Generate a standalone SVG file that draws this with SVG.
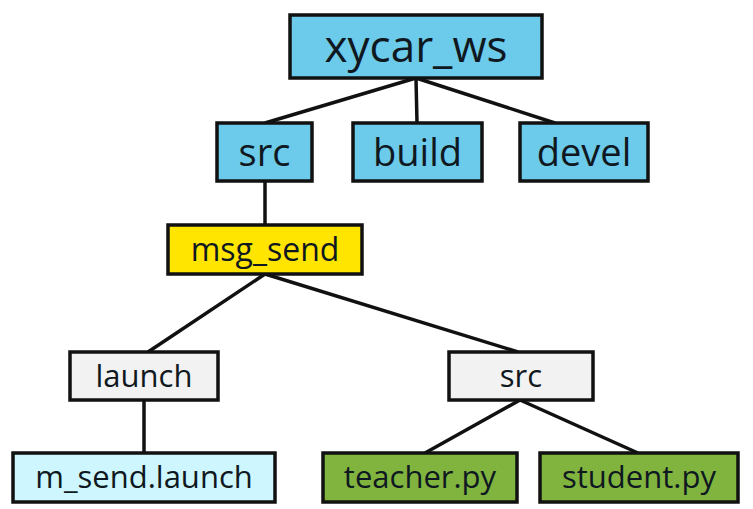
<svg xmlns="http://www.w3.org/2000/svg" width="753" height="509" viewBox="0 0 753 509">
<style>
.box{stroke:#111;stroke-width:3.5}
.blue{fill:#6ccaea}
.yellow{fill:#ffe500}
.gray{fill:#f2f2f2}
.cyan{fill:#cdf6ff}
.green{fill:#80b43f}
text{font-family:"Open Sans","Noto Sans",sans-serif;fill:#0f1820;text-anchor:middle;dominant-baseline:central}
.conn line{stroke:#111;stroke-width:3.5}
</style>
<rect width="753" height="509" fill="#ffffff"/>
<g class="conn">
<line x1="416" y1="78" x2="265" y2="123"/>
<line x1="416" y1="78" x2="417" y2="123"/>
<line x1="416" y1="78" x2="555" y2="123"/>
<line x1="265" y1="181" x2="265" y2="225"/>
<line x1="265" y1="274" x2="148" y2="352"/>
<line x1="265" y1="274" x2="518" y2="352"/>
<line x1="144" y1="400" x2="144" y2="453"/>
<line x1="520" y1="400" x2="425" y2="453"/>
<line x1="520" y1="400" x2="638" y2="453"/>
</g>
<g id="xycar_ws"><rect class="box blue" x="290" y="15" width="252" height="63"/><text x="416" y="45" font-size="44">xycar_ws</text></g>
<g id="src"><rect class="box blue" x="217" y="123" width="95" height="58"/><text x="264.5" y="151" font-size="38">src</text></g>
<g id="build"><rect class="box blue" x="353" y="123" width="129" height="58"/><text x="417.5" y="151" font-size="38">build</text></g>
<g id="devel"><rect class="box blue" x="520" y="123" width="128" height="58"/><text x="584" y="151" font-size="38">devel</text></g>
<g id="msg_send"><rect class="box yellow" x="168" y="225" width="194" height="49"/><text x="265" y="248" font-size="32">msg_send</text></g>
<g id="launch"><rect class="box gray" x="70" y="352" width="148" height="48"/><text x="144" y="375" font-size="31">launch</text></g>
<g id="src2"><rect class="box gray" x="449" y="352" width="144" height="48"/><text x="521" y="375" font-size="31">src</text></g>
<g id="m_send_launch"><rect class="box cyan" x="13" y="453" width="262" height="49"/><text x="144" y="476" font-size="31">m_send.launch</text></g>
<g id="teacher_py"><rect class="box green" x="323" y="453" width="194" height="49"/><text x="420" y="476" font-size="31">teacher.py</text></g>
<g id="student_py"><rect class="box green" x="540" y="453" width="198" height="49"/><text x="639" y="476" font-size="31">student.py</text></g>
</svg>
